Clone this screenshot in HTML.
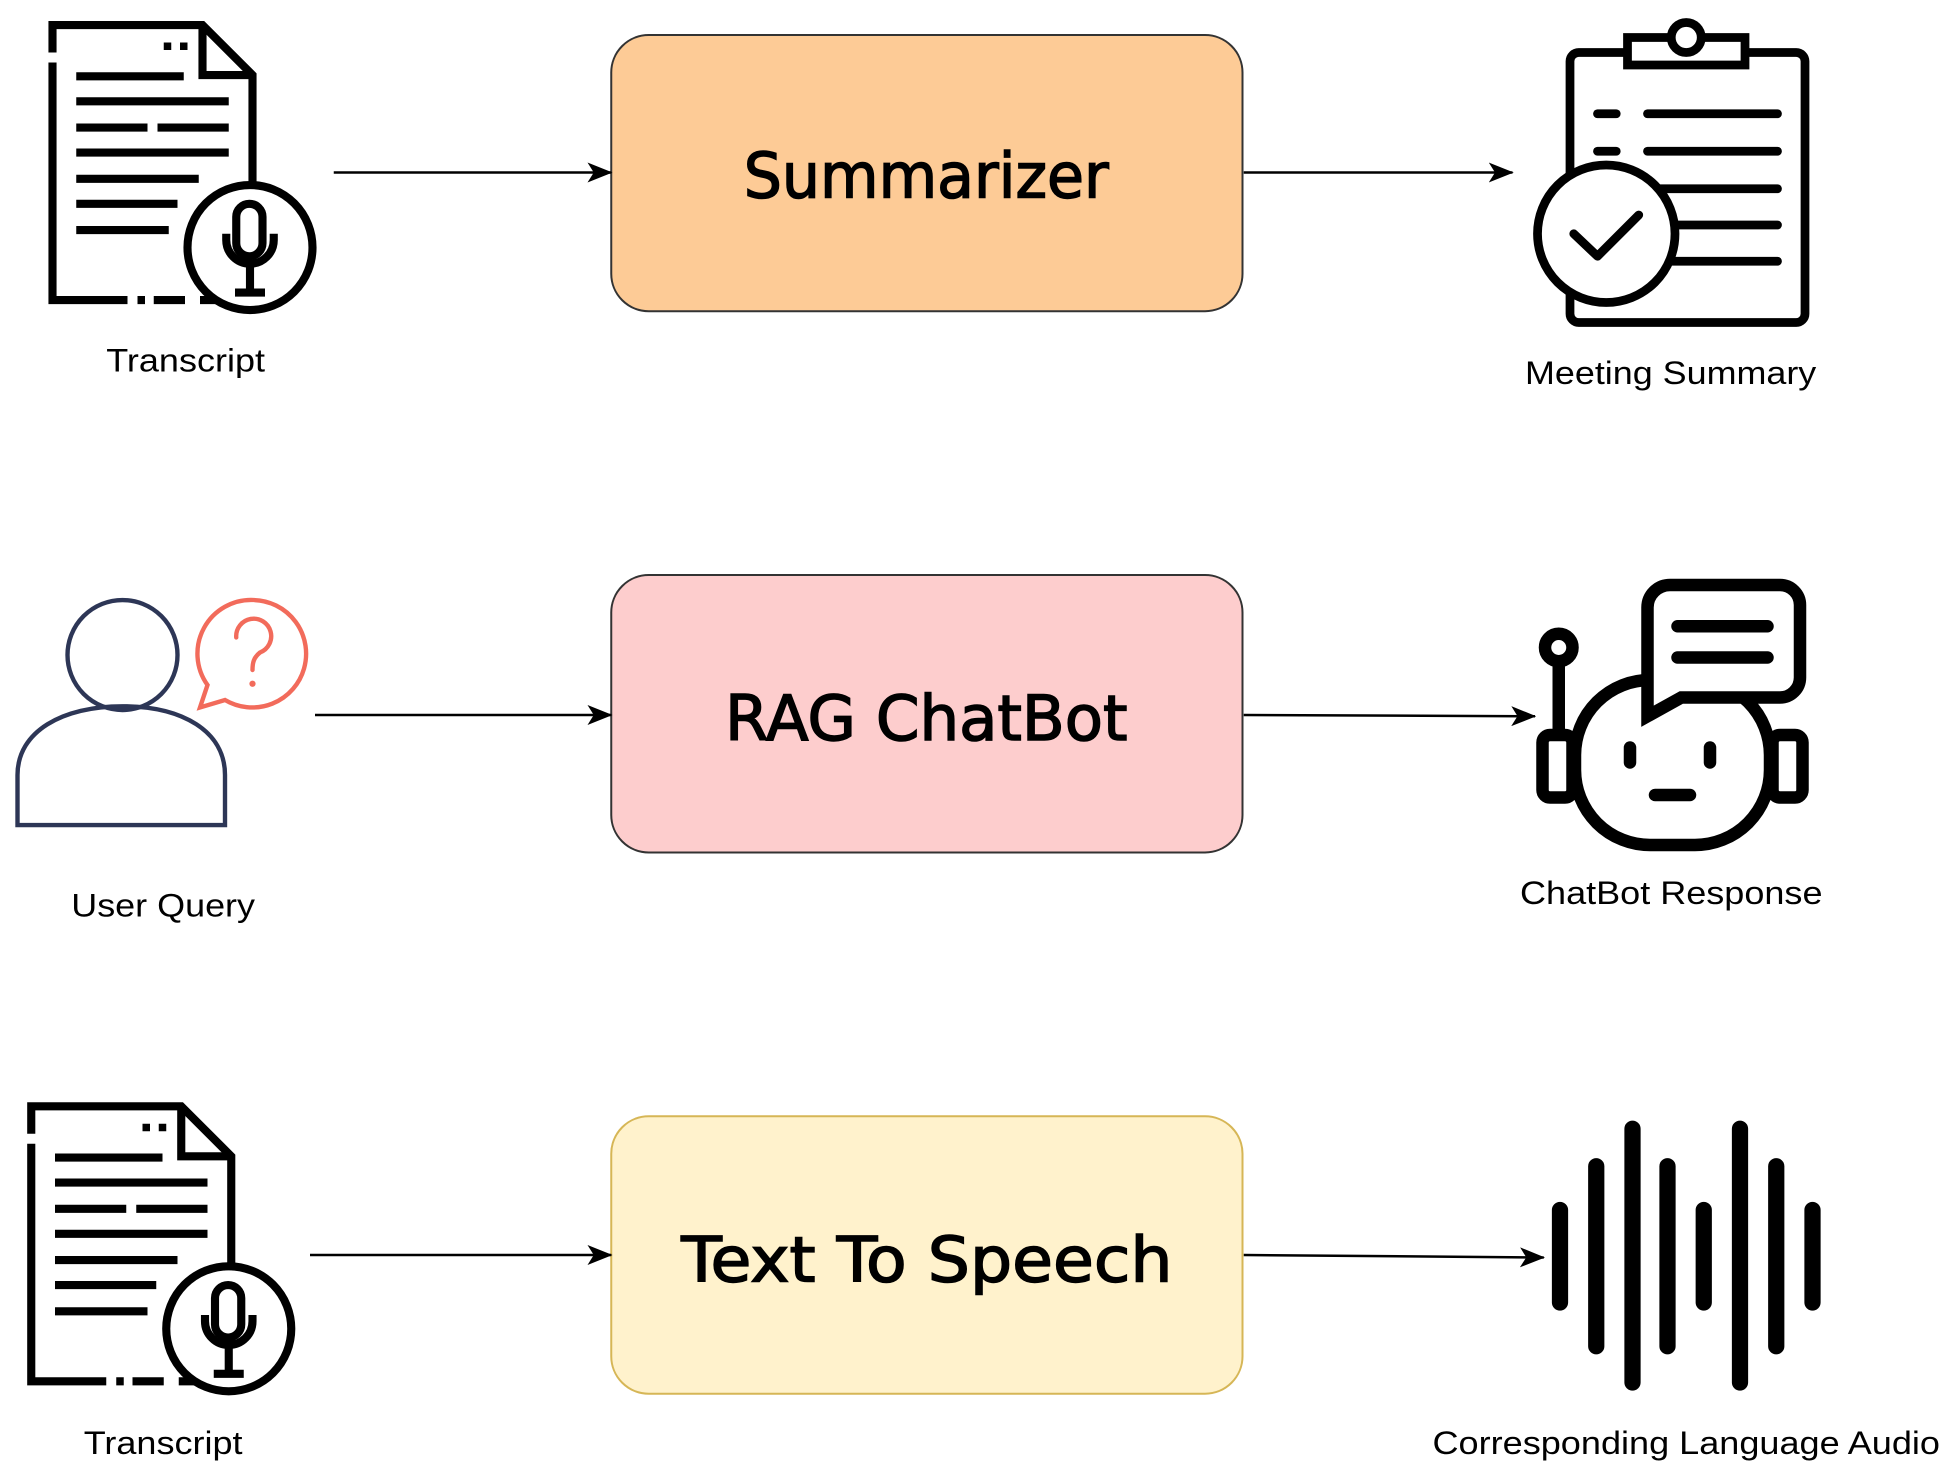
<!DOCTYPE html>
<html><head><meta charset="utf-8"><style>html,body{margin:0;padding:0;background:#fff}svg{display:block}</style></head>
<body>
<svg width="1950" height="1475" viewBox="0 0 1560 1180" xmlns="http://www.w3.org/2000/svg">
<defs>
<marker id="ah" markerWidth="20" markerHeight="16" refX="19" refY="8" orient="auto" markerUnits="userSpaceOnUse">
<path d="M0,0 L20,8 L0,16 L5,8 Z" fill="#000"/></marker>
<g id="doc">
<path d="M42,42 V20 H162 L202,60 V240 H160 M148,240 H123 M116,240 H110 M42,50 V240 H102" fill="none" stroke="#000" stroke-width="6.5"/>
<path d="M162,20 V60 H202" fill="none" stroke="#000" stroke-width="6.5"/>
<rect x="131" y="34" width="6" height="6"/><rect x="144" y="34" width="6" height="6"/>
<g stroke="#000" stroke-width="6.5">
<line x1="61" y1="61" x2="147" y2="61"/><line x1="61" y1="81" x2="183" y2="81"/>
<line x1="61" y1="102" x2="118" y2="102"/><line x1="126" y1="102" x2="183" y2="102"/>
<line x1="61" y1="122" x2="183" y2="122"/><line x1="61" y1="143" x2="159" y2="143"/>
<line x1="61" y1="163" x2="142" y2="163"/><line x1="61" y1="184" x2="135" y2="184"/></g>
<circle cx="200" cy="198" r="50" fill="#fff" stroke="#000" stroke-width="6.5"/>
<rect x="189" y="163" width="21" height="42" rx="10.5" fill="none" stroke="#000" stroke-width="6.5"/>
<path d="M181,187 V192 A19,19 0 0 0 219,192 V187" fill="none" stroke="#000" stroke-width="6.5"/>
<line x1="200" y1="211" x2="200" y2="232" stroke="#000" stroke-width="6.5"/>
<line x1="188" y1="234" x2="212" y2="234" stroke="#000" stroke-width="6.5"/>
</g>
</defs>

<use href="#doc"/>
<use href="#doc" transform="translate(-17,865)"/>

<rect x="489" y="28" width="505" height="221" rx="30" fill="#fdcb96" stroke="#333" stroke-width="1.6"/>
<rect x="489" y="460" width="505" height="222" rx="30" fill="#fdcdcd" stroke="#333" stroke-width="1.6"/>
<rect x="489" y="893" width="505" height="222" rx="30" fill="#fff2cc" stroke="#d6b656" stroke-width="1.6"/>
<g font-family="'DejaVu Sans',sans-serif" font-size="50" fill="#000" stroke="#000" stroke-width="1.2">
<text x="595" y="158" textLength="292" lengthAdjust="spacingAndGlyphs">Summarizer</text>
<text x="580" y="592" textLength="322" lengthAdjust="spacingAndGlyphs">RAG ChatBot</text>
<text x="545" y="1025" textLength="393" lengthAdjust="spacingAndGlyphs">Text To Speech</text>
</g>

<g stroke="#000" stroke-width="2" fill="none" marker-end="url(#ah)">
<line x1="267" y1="138" x2="489" y2="138"/>
<line x1="995" y1="138" x2="1210" y2="138"/>
<line x1="252" y1="572" x2="489" y2="572"/>
<line x1="995" y1="572" x2="1228" y2="573"/>
<line x1="248" y1="1004" x2="489" y2="1004"/>
<line x1="995" y1="1004" x2="1235" y2="1006"/>
</g>

<rect x="1256" y="42" width="188" height="216" rx="7" fill="none" stroke="#000" stroke-width="7"/>
<rect x="1302" y="30" width="94" height="22" fill="#fff" stroke="#000" stroke-width="7"/>
<circle cx="1349" cy="30" r="12" fill="#fff" stroke="#000" stroke-width="7"/>
<g stroke="#000" stroke-width="7" stroke-linecap="round">
<line x1="1278" y1="91" x2="1293" y2="91"/><line x1="1278" y1="121" x2="1293" y2="121"/>
<line x1="1318" y1="91" x2="1422" y2="91"/><line x1="1318" y1="121" x2="1422" y2="121"/>
<line x1="1318" y1="151" x2="1422" y2="151"/><line x1="1318" y1="180" x2="1422" y2="180"/>
<line x1="1318" y1="209" x2="1422" y2="209"/></g>
<circle cx="1285" cy="187" r="55" fill="#fff" stroke="#000" stroke-width="7"/>
<path d="M1259,187 L1278,205 L1311,172" fill="none" stroke="#000" stroke-width="7" stroke-linecap="round" stroke-linejoin="round"/>

<circle cx="98" cy="524" r="44" fill="none" stroke="#2d3656" stroke-width="3.5"/>
<path d="M14,660 V620 C14,585 50,565 98,565 C146,565 180,585 180,620 V660 Z" fill="none" stroke="#2d3656" stroke-width="3.5"/>
<path d="M203,480 A43,43 0 1 1 180,560 L160,566 L166,548 A43,43 0 0 1 203,480 Z" fill="#fff" stroke="#f26b5b" stroke-width="3.5"/>
<path d="M189,510 A14,14 0 1 1 208,522 C203,526 202,530 202,536" fill="none" stroke="#f26b5b" stroke-width="3.5" stroke-linecap="round"/>
<circle cx="202" cy="547" r="2.5" fill="#f26b5b"/>

<g fill="none" stroke="#000" stroke-width="10">
<rect x="1260" y="544" width="156" height="132" rx="60"/>
<rect x="1234" y="588" width="24" height="50" rx="6"/>
<rect x="1418" y="588" width="24" height="50" rx="6"/>
<line x1="1247" y1="532" x2="1247" y2="588"/>
<circle cx="1247" cy="518" r="11"/>
<path d="M1336,468 H1424 A16,16 0 0 1 1440,484 V542 A16,16 0 0 1 1424,558 H1345 L1318,573 V486 A18,18 0 0 1 1336,468 Z" fill="#fff"/>
</g>
<g stroke="#000" stroke-width="10" stroke-linecap="round">
<line x1="1342" y1="501" x2="1414" y2="501"/><line x1="1342" y1="526" x2="1414" y2="526"/>
<line x1="1304" y1="598" x2="1304" y2="610"/><line x1="1368" y1="598" x2="1368" y2="610"/>
<line x1="1324" y1="636" x2="1352" y2="636"/></g>

<g stroke="#000" stroke-width="13" stroke-linecap="round">
<line x1="1248" y1="968" x2="1248" y2="1042"/><line x1="1277" y1="933" x2="1277" y2="1077"/>
<line x1="1306" y1="903" x2="1306" y2="1106"/><line x1="1334" y1="933" x2="1334" y2="1077"/>
<line x1="1363" y1="968" x2="1363" y2="1042"/><line x1="1392" y1="903" x2="1392" y2="1106"/>
<line x1="1421" y1="933" x2="1421" y2="1077"/><line x1="1450" y1="968" x2="1450" y2="1042"/>
</g>

<g font-family="'Liberation Sans',Arial,sans-serif" font-size="26" fill="#000">
<text x="85" y="297" textLength="127" lengthAdjust="spacingAndGlyphs">Transcript</text>
<text x="1220" y="307" textLength="233" lengthAdjust="spacingAndGlyphs">Meeting Summary</text>
<text x="57" y="733" textLength="147" lengthAdjust="spacingAndGlyphs">User Query</text>
<text x="1216" y="723" textLength="242" lengthAdjust="spacingAndGlyphs">ChatBot Response</text>
<text x="67" y="1163" textLength="127" lengthAdjust="spacingAndGlyphs">Transcript</text>
<text x="1146" y="1163" textLength="406" lengthAdjust="spacingAndGlyphs">Corresponding Language Audio</text>
</g>
</svg>
</body></html>
